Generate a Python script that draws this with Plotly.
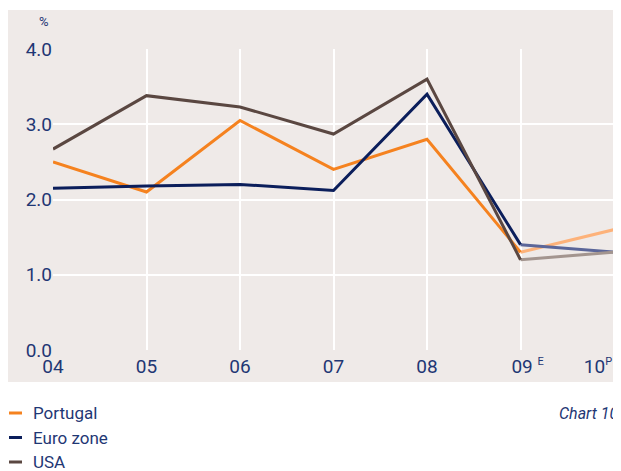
import plotly.graph_objects as go

years = ["04", "05", "06", "07", "08", "09", "10"]
tick_labels = ["04", "05", "06", "07", "08",
               "&nbsp;&nbsp;&nbsp;09 <sup><span style='font-size:11px'>E</span></sup>",
               "10<sup><span style='font-size:11px'>P</span></sup>"
               "<span style='color:rgba(0,0,0,0)'>000</span>"]
portugal = [2.5, 2.1, 3.05, 2.4, 2.8, 1.3, 1.6]
euro_zone = [2.15, 2.18, 2.2, 2.12, 3.4, 1.4, 1.3]
usa = [2.67, 3.38, 3.23, 2.87, 3.6, 1.2, 1.3]

series = [
    ("Portugal", portugal, "#F5821F", "#FDB27A"),
    ("Euro zone", euro_zone, "#0B1E5B", "#5B6699"),
    ("USA", usa, "#5A4741", "#A3958F"),
]

FONT = "Roboto, Arial"
NAVY = "#1F3774"
PANEL = "#EFEAE8"

fig = go.Figure()
for name, vals, col, light in series:
    fig.add_trace(go.Scatter(x=years[5:], y=vals[5:], mode="lines",
                             line=dict(color=light, width=3),
                             showlegend=False, hoverinfo="skip"))
for name, vals, col, light in series:
    fig.add_trace(go.Scatter(x=years[:6], y=vals[:6], mode="lines", name=name,
                             line=dict(color=col, width=3), showlegend=False))

# page body has an 8px margin; figure coordinates = screen coordinates - 8
OFF = 8
W, H = 613, 463
L, T = 53 - OFF, 49 - OFF
R = W - (614 - OFF)
B = H - (350 - OFF)
pw, ph = W - L - R, H - T - B

def px_x(x):
    return (x - OFF - L) / pw

def px_y(y):
    return (H - B - (y - OFF)) / ph

fig.add_shape(type="rect", xref="paper", yref="paper", layer="below",
              x0=px_x(8), x1=px_x(640), y0=px_y(382), y1=px_y(10),
              fillcolor=PANEL, line=dict(width=0))

# legend built from series
for i, (name, vals, col, light) in enumerate(series):
    yy = 413 + i * 24.5
    fig.add_shape(type="line", xref="paper", yref="paper",
                  x0=px_x(9), x1=px_x(22), y0=px_y(yy), y1=px_y(yy),
                  line=dict(color=col, width=3))
    fig.add_annotation(text=name, xref="paper", yref="paper", x=px_x(31), y=px_y(yy),
                       showarrow=False, font=dict(family=FONT, size=17, color=NAVY),
                       xanchor="left", yanchor="middle")

fig.add_annotation(text="%", xref="paper", yref="paper", x=px_x(44), y=px_y(22),
                   showarrow=False, font=dict(family=FONT, size=13, color=NAVY),
                   xanchor="center", yanchor="middle")
fig.add_annotation(text="<i>Chart 10</i>", xref="paper", yref="paper",
                   x=px_x(557), y=px_y(413), showarrow=False,
                   font=dict(family=FONT, size=16, color=NAVY),
                   xanchor="left", yanchor="middle")

fig.update_layout(
    width=W, height=H,
    margin=dict(l=L, r=R, t=T, b=B, pad=0, autoexpand=False),
    paper_bgcolor="white", plot_bgcolor=PANEL,
    font=dict(family=FONT, color=NAVY),
    showlegend=False,
    xaxis=dict(type="category", categoryorder="array", categoryarray=years,
               tickvals=years, ticktext=tick_labels, range=[0, 6],
               showgrid=True, gridcolor="white", gridwidth=2,
               zeroline=False, showline=False, ticks="", automargin=False,
               ticklabelstandoff=3,
               tickfont=dict(family=FONT, size=19, color=NAVY)),
    yaxis=dict(range=[0, 4], tickvals=[0, 1, 2, 3, 4], tickformat=".1f",
               showgrid=True, gridcolor="white", gridwidth=2,
               zeroline=False, showline=False, ticks="", automargin=False,
               tickfont=dict(family=FONT, size=19, color=NAVY)),
)

fig.write_html("out.html")
